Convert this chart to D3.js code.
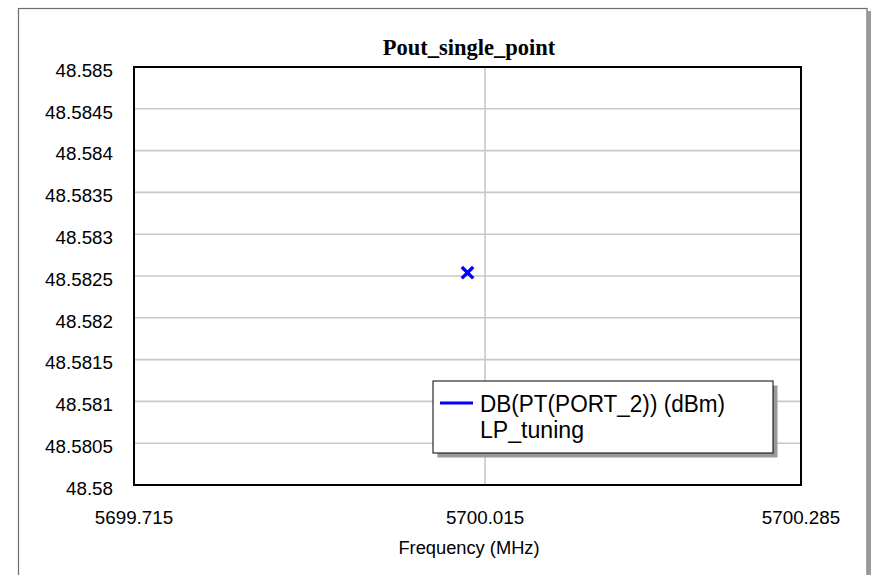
<!DOCTYPE html>
<html>
<head>
<meta charset="utf-8">
<script src="https://cdn.jsdelivr.net/npm/d3@7"></script>
<style>
  html, body { margin: 0; padding: 0; background: #fff; }
  svg { display: block; }
</style>
</head>
<body>
<svg id="chart" width="872" height="575"></svg>
<script>
// Single swept point of output power vs frequency
const title = "Pout_single_point";
const xAxisTitle = "Frequency (MHz)";
const seriesName = "DB(PT(PORT_2)) (dBm)";
const seriesSubName = "LP_tuning";

const xDomain = [5699.715, 5700.285];
const xTicks = [5699.715, 5700.015, 5700.285];
const xTickLabels = ["5699.715", "5700.015", "5700.285"];

const yDomain = [48.58, 48.585];
const yTicks = [48.58, 48.5805, 48.581, 48.5815, 48.582, 48.5825, 48.583, 48.5835, 48.584, 48.5845, 48.585];
const yTickLabels = ["48.58", "48.5805", "48.581", "48.5815", "48.582", "48.5825", "48.583", "48.5835", "48.584", "48.5845", "48.585"];

const pointFreq = [5700.0];
const pointPout = [48.58254];

const svg = d3.select("#chart");
const plot = { left: 134, top: 67, right: 801, bottom: 485 };

const x = d3.scaleLinear().domain(xDomain).range([plot.left, plot.right]);
const y = d3.scaleLinear().domain(yDomain).range([plot.bottom, plot.top]);

const sans = "'Liberation Sans', Arial, sans-serif";

// Outer frame with a drop shadow on the right (bottom edge runs past the view)
svg.append("rect")
  .attr("x", 867.5).attr("y", 11).attr("width", 3.5).attr("height", 580)
  .attr("fill", "#9a9a9a");
svg.append("rect")
  .attr("x", 18.5).attr("y", 8.5).attr("width", 848.5).attr("height", 580)
  .attr("fill", "#fff").attr("stroke", "#6e6e6e").attr("stroke-width", 1.2);

// Horizontal grid lines
svg.append("g")
  .selectAll("line")
  .data(yTicks.filter(v => v > yDomain[0] && v < yDomain[1]))
  .join("line")
  .attr("x1", plot.left).attr("x2", plot.right)
  .attr("y1", d => y(d)).attr("y2", d => y(d))
  .attr("stroke", "#c8c8c8").attr("stroke-width", 1.6);

// Vertical grid lines
svg.append("g")
  .selectAll("line")
  .data(xTicks.filter(v => v > xDomain[0] && v < xDomain[1]))
  .join("line")
  .attr("x1", d => x(d)).attr("x2", d => x(d))
  .attr("y1", plot.top).attr("y2", plot.bottom)
  .attr("stroke", "#c8c8c8").attr("stroke-width", 1.6);

// Plot frame
svg.append("rect")
  .attr("x", plot.left).attr("y", plot.top)
  .attr("width", plot.right - plot.left).attr("height", plot.bottom - plot.top)
  .attr("fill", "none").attr("stroke", "#000").attr("stroke-width", 2);

// Y tick labels
svg.append("g")
  .selectAll("text")
  .data(yTicks)
  .join("text")
  .attr("x", 113)
  .attr("y", d => y(d) + 9.7)
  .attr("text-anchor", "end")
  .attr("font-family", sans).attr("font-size", 18.8).attr("fill", "#000")
  .text((d, i) => yTickLabels[i]);

// X tick labels
svg.append("g")
  .selectAll("text")
  .data(xTicks)
  .join("text")
  .attr("x", d => x(d))
  .attr("y", 524)
  .attr("text-anchor", "middle")
  .attr("font-family", sans).attr("font-size", 18.8).attr("fill", "#000")
  .text((d, i) => xTickLabels[i]);

// X axis title
svg.append("text")
  .attr("x", (plot.left + plot.right) / 2 + 1.5)
  .attr("y", 554)
  .attr("text-anchor", "middle")
  .attr("font-family", sans).attr("font-size", 18.3).attr("fill", "#000")
  .text(xAxisTitle);

// Chart title
svg.append("text")
  .attr("x", (plot.left + plot.right) / 2 + 1.5)
  .attr("y", 55)
  .attr("text-anchor", "middle")
  .attr("font-family", "'Liberation Serif', 'Times New Roman', serif")
  .attr("font-weight", "bold").attr("font-size", 22.5).attr("fill", "#000")
  .text(title);

// Data point drawn as an X marker
const m = 4.5;
const pts = pointFreq.map((f, i) => ({ f, p: pointPout[i] }));
const marks = svg.append("g").selectAll("g").data(pts).join("g")
  .attr("transform", d => `translate(${x(d.f)},${y(d.p)})`);
marks.append("path")
  .attr("d", `M${-m},${-m}L${m},${m}M${-m},${m}L${m},${-m}`)
  .attr("stroke", "#0000ff").attr("stroke-width", 3.4).attr("stroke-linecap", "square")
  .attr("fill", "none");

// Legend
const lg = { x: 433, y: 381, w: 340, h: 72 };
svg.append("rect")
  .attr("x", lg.x + 4.5).attr("y", lg.y + 4.5).attr("width", lg.w).attr("height", lg.h)
  .attr("fill", "#9a9a9a");
svg.append("rect")
  .attr("x", lg.x).attr("y", lg.y).attr("width", lg.w).attr("height", lg.h)
  .attr("fill", "#fff").attr("stroke", "#000").attr("stroke-width", 1);
svg.append("line")
  .attr("x1", lg.x + 7).attr("x2", lg.x + 40)
  .attr("y1", lg.y + 22).attr("y2", lg.y + 22)
  .attr("stroke", "#0000ff").attr("stroke-width", 3);
svg.append("text")
  .attr("x", lg.x + 47).attr("y", lg.y + 31)
  .attr("font-family", sans).attr("font-size", 23.5).attr("fill", "#000")
  .attr("textLength", 245).attr("lengthAdjust", "spacingAndGlyphs")
  .text(seriesName);
svg.append("text")
  .attr("x", lg.x + 47).attr("y", lg.y + 57)
  .attr("font-family", sans).attr("font-size", 23.5).attr("fill", "#000")
  .attr("textLength", 104).attr("lengthAdjust", "spacingAndGlyphs")
  .text(seriesSubName);
</script>
</body>
</html>
